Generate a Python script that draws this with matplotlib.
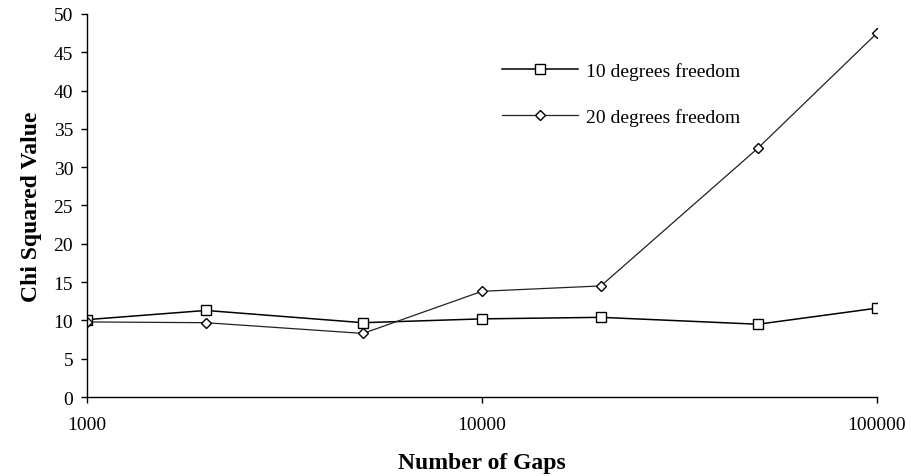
import matplotlib
matplotlib.use("Agg")
import matplotlib.pyplot as plt

gaps = [1000, 2000, 5000, 10000, 20000, 50000, 100000]
chi_10dof = [10.1, 11.3, 9.7, 10.2, 10.4, 9.5, 11.6]
chi_20dof = [9.8, 9.7, 8.3, 13.8, 14.5, 32.5, 47.5]
yticks = list(range(0, 51, 5))
xticks = [1000, 10000, 100000]

plt.rcParams['font.family'] = ['Liberation Serif', 'DejaVu Serif']

fig = plt.figure(figsize=(9.12, 4.77), dpi=100)
ax = fig.add_axes([0.0954, 0.1656, 0.8662, 0.803])

ax.plot(gaps, chi_10dof, color='black', lw=1.1, marker='s', ms=7.5,
        mfc='white', mec='black', mew=1.0, label='10 degrees freedom')
ax.plot(gaps, chi_20dof, color='#222222', lw=0.9, marker='D', ms=5.5,
        mfc='white', mec='black', mew=1.0, label='20 degrees freedom')

ax.set_xscale('log')
ax.set_xlim(1000, 100000)
ax.set_ylim(0, 50)
ax.set_yticks(yticks)
ax.set_yticklabels([str(v) for v in yticks])
ax.set_xticks(xticks)
ax.set_xticklabels([str(v) for v in xticks])
ax.xaxis.set_minor_locator(matplotlib.ticker.NullLocator())

for s in ['top', 'right']:
    ax.spines[s].set_visible(False)
for s in ['left', 'bottom']:
    ax.spines[s].set_linewidth(1.0)
ax.tick_params(axis='both', labelsize=14, direction='out', length=4, width=1.0)
ax.tick_params(axis='x', pad=10)
ax.tick_params(axis='y', pad=6)

ax.set_xlabel('Number of Gaps', fontsize=17, fontweight='bold', labelpad=13)
ax.set_ylabel('Chi Squared Value', fontsize=17, fontweight='bold', labelpad=8)

leg = ax.legend(loc='upper left', bbox_to_anchor=(0.503, 0.92), frameon=False,
                fontsize=14, handlelength=3.9, labelspacing=1.45, handletextpad=0.45)

fig.savefig('out.png', dpi=100)
